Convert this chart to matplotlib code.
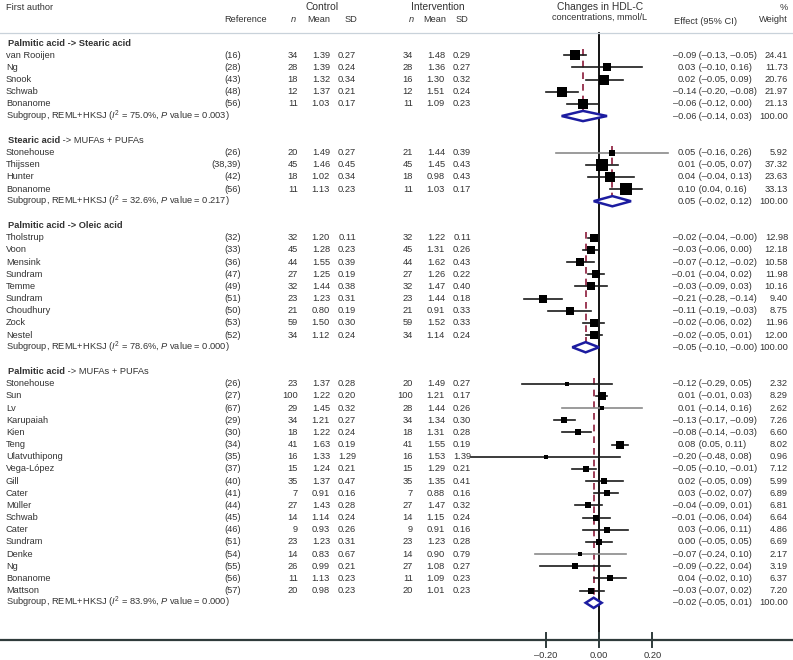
import numpy as np
import matplotlib.pyplot as plt
from matplotlib.transforms import blended_transform_factory

plt.rcParams['font.family'] = ['Liberation Sans', 'DejaVu Sans']
plt.rcParams['mathtext.fontset'] = 'custom'
plt.rcParams['mathtext.rm'] = 'Liberation Sans'
plt.rcParams['mathtext.it'] = 'Liberation Sans:italic'

# ---- data ----
group_head = [("Palmitic acid", " -> Stearic acid"),
              ("Stearic acid", " -> MUFAs + PUFAs"),
              ("Palmitic acid", " -> Oleic acid"),
              ("Palmitic acid", " -> MUFAs + PUFAs")]
group_rest_bold = [True, False, True, False]
group_i2 = [75.0, 32.6, 78.6, 83.9]
group_p = [0.003, 0.217, 0.000, 0.000]
group_eff = [-0.06, 0.05, -0.05, -0.02]
group_lo = [-0.14, -0.02, -0.10, -0.05]
group_hi = [0.03, 0.12, -0.0, 0.01]

authors = ["van Rooijen", "Ng", "Snook", "Schwab", "Bonanome",
           "Stonehouse", "Thijssen", "Hunter", "Bonanome",
           "Tholstrup", "Voon", "Mensink", "Sundram", "Temme", "Sundram", "Choudhury", "Zock", "Nestel",
           "Stonehouse", "Sun", "Lv", "Karupaiah", "Kien", "Teng", "Ulatvuthipong", "Vega-López", "Gill",
           "Cater", "Müller", "Schwab", "Cater", "Sundram", "Denke", "Ng", "Bonanome", "Mattson"]
refs = ["(16)", "(28)", "(43)", "(48)", "(56)",
        "(26)", "(38,39)", "(42)", "(56)",
        "(32)", "(33)", "(36)", "(47)", "(49)", "(51)", "(50)", "(53)", "(52)",
        "(26)", "(27)", "(67)", "(29)", "(30)", "(34)", "(35)", "(37)", "(40)",
        "(41)", "(44)", "(45)", "(46)", "(51)", "(54)", "(55)", "(56)", "(57)"]
group_of = [0] * 5 + [1] * 4 + [2] * 9 + [3] * 18

ctl_n = [34, 28, 18, 12, 11,
         20, 45, 18, 11,
         32, 45, 44, 27, 32, 23, 21, 59, 34,
         23, 100, 29, 34, 18, 41, 16, 15, 35, 7, 27, 14, 9, 23, 14, 26, 11, 20]
ctl_mean = [1.39, 1.39, 1.32, 1.37, 1.03,
            1.49, 1.46, 1.02, 1.13,
            1.20, 1.28, 1.55, 1.25, 1.44, 1.23, 0.80, 1.50, 1.12,
            1.37, 1.22, 1.45, 1.21, 1.22, 1.63, 1.33, 1.24, 1.37, 0.91, 1.43, 1.14, 0.93, 1.23, 0.83, 0.99, 1.13, 0.98]
ctl_sd = [0.27, 0.24, 0.34, 0.21, 0.17,
          0.27, 0.45, 0.34, 0.23,
          0.11, 0.23, 0.39, 0.19, 0.38, 0.31, 0.19, 0.30, 0.24,
          0.28, 0.20, 0.32, 0.27, 0.24, 0.19, 1.29, 0.21, 0.47, 0.16, 0.28, 0.24, 0.26, 0.31, 0.67, 0.21, 0.23, 0.23]
int_n = [34, 28, 16, 12, 11,
         21, 45, 18, 11,
         32, 45, 44, 27, 32, 23, 21, 59, 34,
         20, 100, 28, 34, 18, 41, 16, 15, 35, 7, 27, 14, 9, 23, 14, 27, 11, 20]
int_mean = [1.48, 1.36, 1.30, 1.51, 1.09,
            1.44, 1.45, 0.98, 1.03,
            1.22, 1.31, 1.62, 1.26, 1.47, 1.44, 0.91, 1.52, 1.14,
            1.49, 1.21, 1.44, 1.34, 1.31, 1.55, 1.53, 1.29, 1.35, 0.88, 1.47, 1.15, 0.91, 1.23, 0.90, 1.08, 1.09, 1.01]
int_sd = [0.29, 0.27, 0.32, 0.24, 0.23,
          0.39, 0.43, 0.43, 0.17,
          0.11, 0.26, 0.43, 0.22, 0.40, 0.18, 0.33, 0.33, 0.24,
          0.27, 0.17, 0.26, 0.30, 0.28, 0.19, 1.39, 0.21, 0.41, 0.16, 0.32, 0.24, 0.16, 0.28, 0.79, 0.27, 0.23, 0.23]
effect = [-0.09, 0.03, 0.02, -0.14, -0.06,
          0.05, 0.01, 0.04, 0.10,
          -0.02, -0.03, -0.07, -0.01, -0.03, -0.21, -0.11, -0.02, -0.02,
          -0.12, 0.01, 0.01, -0.13, -0.08, 0.08, -0.20, -0.05, 0.02, 0.03, -0.04, -0.01, 0.03, 0.00, -0.07, -0.09, 0.04, -0.03]
ci_lo = [-0.13, -0.10, -0.05, -0.20, -0.12,
         -0.16, -0.05, -0.04, 0.04,
         -0.04, -0.06, -0.12, -0.04, -0.09, -0.28, -0.19, -0.06, -0.05,
         -0.29, -0.01, -0.14, -0.17, -0.14, 0.05, -0.48, -0.10, -0.05, -0.02, -0.09, -0.06, -0.06, -0.05, -0.24, -0.22, -0.02, -0.07]
ci_hi = [-0.05, 0.16, 0.09, -0.08, 0.00,
         0.26, 0.07, 0.13, 0.16,
         -0.0, 0.00, -0.02, 0.02, 0.03, -0.14, -0.03, 0.02, 0.01,
         0.05, 0.03, 0.16, -0.09, -0.03, 0.11, 0.08, -0.01, 0.09, 0.07, 0.01, 0.04, 0.11, 0.05, 0.10, 0.04, 0.10, 0.02]
weight = [24.41, 11.73, 20.76, 21.97, 21.13,
          5.92, 37.32, 23.63, 33.13,
          12.98, 12.18, 10.58, 11.98, 10.16, 9.40, 8.75, 11.96, 12.00,
          2.32, 8.29, 2.62, 7.26, 6.60, 8.02, 0.96, 7.12, 5.99, 6.89, 6.81, 6.64, 4.86, 6.69, 2.17, 3.19, 6.37, 7.20]
light_lines = {5, 20, 32}   # CI lines drawn lighter in the original
ticks = [-0.20, 0.00, 0.20]

# ---- layout (pixels of a 793x660 image) ----
W, H = 793, 660
X0, PPU = 599, 267          # pixel of effect 0, pixels per unit
Y0, RH = 43, 12.17          # pixel of first row, row height
TXT = '#333333'
FS = 6.7


def fmt(v):
    return f"{v:.2f}".replace('-', '–')


fig = plt.figure(figsize=(W / 100, H / 100), dpi=100)
ax = fig.add_axes([0, 0, 1, 1])
ax.set_xlim(-X0 / PPU, (W - X0) / PPU)
ax.set_ylim((H - Y0) / RH, -Y0 / RH)
ax.set_axis_off()
tr = blended_transform_factory(fig.transFigure, ax.transData)


def col(xpx, row, s, ha='right', **kw):
    kw.setdefault('fontsize', FS)
    kw.setdefault('color', TXT)
    return ax.text(xpx / W, row, s, transform=tr, ha=ha, va='center', **kw)


def head(xpx, ypx, s, ha='center', fs=FS, **kw):
    fig.text(xpx / W, 1 - ypx / H, s, ha=ha, va='center', fontsize=fs, color=TXT, **kw)


# header
head(6, 8, "First author", ha='left')
head(267, 19, "Reference", ha='right')
head(322, 7, "Control", fs=7.4)
head(293, 19, "n", style='italic')
head(319, 19, "Mean")
head(351, 19, "SD")
head(438, 7, "Intervention", fs=7.4)
head(411, 19, "n", style='italic')
head(435, 19, "Mean")
head(462, 19, "SD")
head(600, 7, "Changes in HDL-C", fs=7.4)
head(600, 17, "concentrations, mmol/L", fs=6.6)
head(705, 21, "Effect (95% CI)")
head(788, 7, "%", ha='right')
head(788, 19, "Weight", ha='right')

top_row = (33 - Y0) / RH
axis_row = (640 - Y0) / RH
ax.axhline(top_row, color='#c9d2da', lw=0.9)

row = 0
for g in range(len(group_head)):
    hrow = row
    t1 = col(8, hrow, group_head[g][0], ha='left', fontweight='bold')
    ax.annotate(group_head[g][1], xy=(1, 0.5), xycoords=t1, ha='left', va='center',
                fontsize=FS, color=TXT, fontweight='bold' if group_rest_bold[g] else 'normal')
    idx = [i for i in range(len(authors)) if group_of[i] == g]
    for i in idx:
        row += 1
        col(6, row, authors[i], ha='left')
        col(241, row, refs[i])
        col(298, row, str(ctl_n[i]))
        col(330, row, f"{ctl_mean[i]:.2f}")
        col(356, row, f"{ctl_sd[i]:.2f}")
        col(413, row, str(int_n[i]))
        col(445, row, f"{int_mean[i]:.2f}")
        col(471, row, f"{int_sd[i]:.2f}")
        col(696, row, fmt(effect[i]))
        col(696, row, f" ({fmt(ci_lo[i])}, {fmt(ci_hi[i])})", ha='left')
        col(788, row, f"{weight[i]:.2f}")
        lc = '#8a8a8a' if i in light_lines else '#1a1a1a'
        ax.plot([ci_lo[i], ci_hi[i]], [row, row], color=lc, lw=1.2, zorder=3)
        size_px = 2.2 + 1.7 * np.sqrt(weight[i])
        ax.plot(effect[i], row, 's', ms=size_px * 0.72, color='black', mew=0, zorder=4)
    row += 1
    srow = row
    col(6, srow, rf"Subgroup, REML+HKSJ ($\mathit{{I}}^{{2}}$ = {group_i2[g]:.1f}%, "
                 rf"$\mathit{{P}}$ value = {group_p[g]:.3f})", ha='left')
    col(696, srow, fmt(group_eff[g]))
    col(696, srow, f" ({fmt(group_lo[g])}, {fmt(group_hi[g])})", ha='left')
    col(788, srow, "100.00")
    ax.plot([group_eff[g], group_eff[g]], [hrow + 0.5, srow], color='#8b1a3a', lw=1.2,
            ls=(0, (4, 3)), zorder=2)
    ax.fill([group_lo[g], group_eff[g], group_hi[g], group_eff[g]],
            [srow, srow - 0.42, srow, srow + 0.42],
            facecolor='white', edgecolor='#1c1ca0', lw=1.8, zorder=5)
    row += 2

# zero line and axis
ax.plot([0, 0], [top_row, axis_row], color='black', lw=1.3, zorder=1)
ax.axhline(axis_row, color='#2f3b3b', lw=1.6)
for t in ticks:
    ax.plot([t, t], [axis_row - 0.6, axis_row + 0.6], color='#2f3b3b', lw=1.4)
    ax.text(t, (655 - Y0) / RH, fmt(t), ha='center', va='center', fontsize=FS, color=TXT)

fig.savefig('out.png', dpi=100, facecolor='white')
